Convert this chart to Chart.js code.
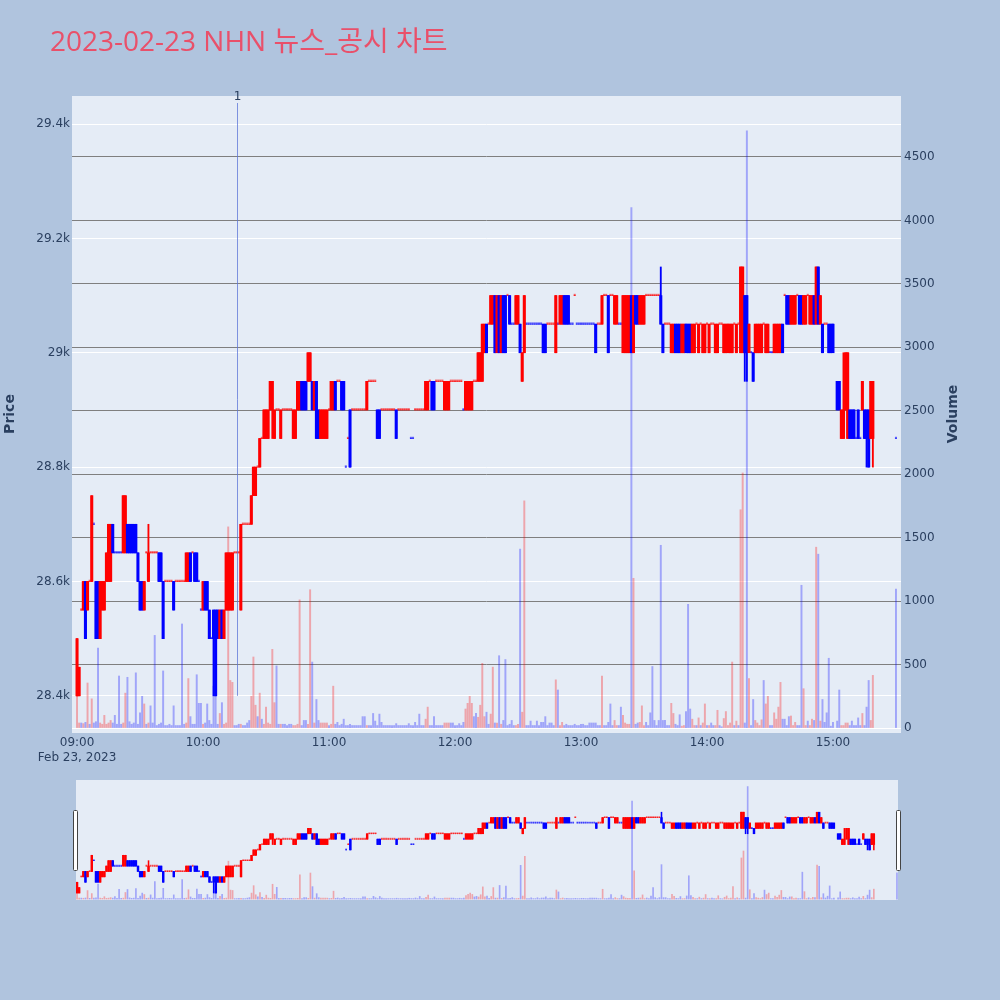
<!DOCTYPE html>
<html>
<head>
<meta charset="utf-8">
<script src="https://cdn.jsdelivr.net/npm/chart.js@4.4.1/dist/chart.umd.min.js"></script>
<style>
html, body { margin: 0; padding: 0; background: #b0c4de; }
#wrap { position: relative; width: 1000px; height: 1000px; }
#main { position: absolute; left: 0; top: 0; }
#slider { position: absolute; left: 0; top: 772px; }
</style>
</head>
<body>
<div id="wrap">
  <canvas id="main" width="1000" height="1000"></canvas>
  <canvas id="slider" width="1000" height="136"></canvas>
</div>
<script>
const chartTitle = '2023-02-23 NHN 뉴스_공시 차트';
const dateLabel = 'Feb 23, 2023';
const tickTimes = ['09:00', '10:00', '11:00', '12:00', '13:00', '14:00', '15:00'];
const priceTicks = [28400, 28600, 28800, 29000, 29200, 29400];
const volumeTicks = [0, 500, 1000, 1500, 2000, 2500, 3000, 3500, 4000, 4500];
const newsTimes = ['10:16'];
const newsLabels = ['1'];

const times = [
'09:00','09:01','09:02','09:03','09:04','09:05','09:06','09:07','09:08','09:09',
'09:10','09:11','09:12','09:13','09:14','09:15','09:16','09:17','09:18','09:19',
'09:20','09:21','09:22','09:23','09:24','09:25','09:26','09:27','09:28','09:29',
'09:30','09:31','09:32','09:33','09:34','09:35','09:36','09:37','09:38','09:39',
'09:40','09:41','09:42','09:43','09:44','09:45','09:46','09:47','09:48','09:49',
'09:50','09:51','09:52','09:53','09:54','09:55','09:56','09:57','09:58','09:59',
'10:00','10:01','10:02','10:03','10:04','10:05','10:06','10:07','10:08','10:09',
'10:10','10:11','10:12','10:13','10:14','10:15','10:16','10:17','10:18','10:19',
'10:20','10:21','10:22','10:23','10:24','10:25','10:26','10:27','10:28','10:29',
'10:30','10:31','10:32','10:33','10:34','10:35','10:36','10:37','10:38','10:39',
'10:40','10:41','10:42','10:43','10:44','10:45','10:46','10:47','10:48','10:49',
'10:50','10:51','10:52','10:53','10:54','10:55','10:56','10:57','10:58','10:59',
'11:00','11:01','11:02','11:03','11:04','11:05','11:06','11:07','11:08','11:09',
'11:10','11:11','11:12','11:13','11:14','11:15','11:16','11:17','11:18','11:19',
'11:20','11:21','11:22','11:23','11:24','11:25','11:26','11:27','11:28','11:29',
'11:30','11:31','11:32','11:33','11:34','11:35','11:36','11:37','11:38','11:39',
'11:40','11:41','11:42','11:43','11:44','11:45','11:46','11:47','11:48','11:49',
'11:50','11:51','11:52','11:53','11:54','11:55','11:56','11:57','11:58','11:59',
'12:00','12:01','12:02','12:03','12:04','12:05','12:06','12:07','12:08','12:09',
'12:10','12:11','12:12','12:13','12:14','12:15','12:16','12:17','12:18','12:19',
'12:20','12:21','12:22','12:23','12:24','12:25','12:26','12:27','12:28','12:29',
'12:30','12:31','12:32','12:33','12:34','12:35','12:36','12:37','12:38','12:39',
'12:40','12:41','12:42','12:43','12:44','12:45','12:46','12:47','12:48','12:49',
'12:50','12:51','12:52','12:53','12:54','12:55','12:56','12:57','12:58','12:59',
'13:00','13:01','13:02','13:03','13:04','13:05','13:06','13:07','13:08','13:09',
'13:10','13:11','13:12','13:13','13:14','13:15','13:16','13:17','13:18','13:19',
'13:20','13:21','13:22','13:23','13:24','13:25','13:26','13:27','13:28','13:29',
'13:30','13:31','13:32','13:33','13:34','13:35','13:36','13:37','13:38','13:39',
'13:40','13:41','13:42','13:43','13:44','13:45','13:46','13:47','13:48','13:49',
'13:50','13:51','13:52','13:53','13:54','13:55','13:56','13:57','13:58','13:59',
'14:00','14:01','14:02','14:03','14:04','14:05','14:06','14:07','14:08','14:09',
'14:10','14:11','14:12','14:13','14:14','14:15','14:16','14:17','14:18','14:19',
'14:20','14:21','14:22','14:23','14:24','14:25','14:26','14:27','14:28','14:29',
'14:30','14:31','14:32','14:33','14:34','14:35','14:36','14:37','14:38','14:39',
'14:40','14:41','14:42','14:43','14:44','14:45','14:46','14:47','14:48','14:49',
'14:50','14:51','14:52','14:53','14:54','14:55','14:56','14:57','14:58','14:59',
'15:00','15:02','15:03','15:04','15:05','15:06','15:07','15:08','15:09',
'15:10','15:11','15:12','15:13','15:14','15:15','15:16','15:17','15:18','15:19',
'15:30'
];

const opens = [
28400,28400,28550,28550,28600,28550,28600,28600,28700,28600,
28600,28500,28550,28550,28600,28600,28600,28700,28650,28650,
28650,28650,28650,28650,28700,28700,28700,28700,28700,28650,
28600,28600,28550,28650,28600,28650,28650,28650,28650,28650,
28650,28600,28600,28600,28600,28600,28600,28600,28600,28600,
28600,28600,28600,28600,28650,28650,28650,28650,28600,28550,
28550,28600,28600,28550,28500,28550,28550,28550,28500,28550,
28500,28550,28550,28550,28550,28650,28650,28650,28550,28700,
28700,28700,28700,28700,28750,28750,28800,28800,28850,28850,
28850,28850,28900,28900,28850,28900,28900,28850,28900,28900,
28900,28900,28900,28850,28850,28900,28900,28950,28950,28950,
28950,28950,28950,28900,28950,28900,28850,28850,28850,28850,
28900,28900,28900,28950,28950,28950,28950,28950,28800,28850,
28900,28900,28900,28900,28900,28900,28900,28900,28900,28950,
28950,28950,28950,28900,28900,28900,28900,28900,28900,28900,
28900,28900,28900,28900,28900,28900,28900,28900,28900,28850,
28850,28900,28900,28900,28900,28900,28900,28900,28950,28950,
28950,28950,28950,28950,28950,28900,28900,28900,28950,28950,
28950,28950,28950,28950,28900,28900,28900,28900,28900,28950,
28950,28950,28950,28950,29000,29050,29050,29050,29050,29100,
29000,29100,29000,29100,29100,29100,29100,29050,29050,29050,
29050,29050,28950,29000,29050,29050,29050,29050,29050,29050,
29050,29050,29050,29050,29050,29050,29050,29050,29000,29050,
29050,29050,29100,29100,29100,29050,29050,29100,29050,29050,
29050,29050,29050,29050,29050,29050,29050,29050,29050,29050,
29050,29100,29100,29100,29100,29100,29050,29050,29050,29050,
29000,29000,29000,29000,29100,29000,29100,29100,29050,29050,
29050,29100,29100,29100,29100,29100,29100,29100,29100,29050,
29050,29050,29050,29000,29000,29050,29050,29050,29000,29000,
29050,29050,29050,29000,29000,29050,29000,29050,29000,29000,
29050,29000,29050,29050,29000,29000,29050,29050,29000,29000,
29000,29000,29000,29050,29000,29050,29000,29000,29100,29100,
29000,29000,29000,29000,29000,29000,29000,29050,29000,29000,
29000,29000,29000,29000,29000,29000,29050,29100,29100,29100,
29050,29050,29050,29100,29100,29100,29050,29050,29100,29050,
29050,29100,29050,29150,29050,29050,29050,29050,29050,29050,29050,
28950,28950,28850,28850,28900,28850,28900,28900,
28900,28850,28900,28850,28900,28900,28900,28900,28850,28850,
28850
];

const highs = [
28500,28450,28550,28600,28600,28600,28600,28750,28700,28600,
28600,28600,28600,28600,28650,28700,28700,28700,28650,28650,
28650,28650,28750,28750,28700,28700,28700,28700,28700,28650,
28600,28600,28600,28650,28700,28650,28650,28650,28650,28650,
28650,28600,28600,28600,28600,28600,28600,28600,28600,28600,
28600,28600,28650,28650,28650,28650,28650,28650,28600,28550,
28600,28600,28600,28550,28500,28550,28550,28550,28550,28550,
28550,28650,28650,28650,28650,28650,28650,28650,28700,28700,
28700,28700,28700,28750,28800,28800,28800,28850,28850,28900,
28900,28900,28950,28950,28900,28900,28900,28900,28900,28900,
28900,28900,28900,28900,28900,28950,28950,28950,28950,28950,
29000,29000,28950,28950,28950,28900,28900,28900,28900,28900,
28900,28950,28950,28950,28950,28950,28950,28950,28800,28850,
28900,28900,28900,28900,28900,28900,28900,28900,28950,28950,
28950,28950,28950,28900,28900,28900,28900,28900,28900,28900,
28900,28900,28900,28900,28900,28900,28900,28900,28900,28850,
28850,28900,28900,28900,28900,28900,28950,28950,28950,28950,
28950,28950,28950,28950,28950,28950,28950,28950,28950,28950,
28950,28950,28950,28950,28900,28950,28950,28950,28950,28950,
28950,29000,29000,29050,29050,29050,29050,29100,29100,29100,
29100,29100,29100,29100,29100,29100,29100,29050,29050,29100,
29100,29050,29000,29100,29050,29050,29050,29050,29050,29050,
29050,29050,29050,29050,29050,29050,29050,29050,29100,29050,
29100,29100,29100,29100,29100,29050,29050,29100,29050,29050,
29050,29050,29050,29050,29050,29050,29050,29050,29050,29050,
29100,29100,29100,29100,29100,29100,29100,29100,29050,29050,
29100,29100,29100,29100,29100,29100,29100,29100,29100,29100,
29100,29100,29100,29100,29100,29100,29100,29100,29150,29050,
29050,29050,29050,29050,29050,29050,29050,29050,29050,29050,
29050,29050,29050,29050,29050,29050,29050,29050,29050,29050,
29050,29050,29050,29050,29050,29050,29050,29050,29050,29050,
29050,29050,29050,29050,29050,29050,29150,29150,29100,29100,
29050,29000,29000,29050,29050,29050,29050,29050,29050,29050,
29000,29000,29050,29050,29050,29050,29050,29100,29100,29100,
29100,29100,29100,29100,29100,29100,29100,29100,29100,29100,
29100,29100,29150,29150,29100,29050,29050,29050,29050,29050,29050,
28950,28950,28900,29000,29000,29000,28900,28900,
28900,28850,28900,28850,28950,28900,28900,28900,28950,28950,
28850
];

const lows = [
28400,28400,28550,28550,28500,28550,28600,28600,28700,28500,
28500,28500,28550,28550,28600,28600,28600,28650,28650,28650,
28650,28650,28650,28650,28650,28650,28650,28650,28650,28600,
28550,28550,28550,28650,28600,28650,28650,28650,28650,28600,
28600,28500,28600,28600,28600,28600,28550,28600,28600,28600,
28600,28600,28600,28600,28600,28650,28600,28600,28600,28550,
28550,28550,28550,28500,28500,28400,28400,28500,28500,28500,
28500,28550,28550,28550,28550,28650,28650,28650,28550,28700,
28700,28700,28700,28700,28750,28750,28800,28800,28850,28850,
28850,28850,28900,28850,28850,28900,28900,28850,28900,28900,
28900,28900,28900,28850,28850,28900,28900,28900,28900,28900,
28950,28950,28900,28900,28850,28850,28850,28850,28850,28850,
28900,28900,28900,28900,28950,28950,28900,28900,28800,28850,
28800,28900,28900,28900,28900,28900,28900,28900,28900,28950,
28950,28950,28950,28850,28850,28900,28900,28900,28900,28900,
28900,28900,28850,28900,28900,28900,28900,28900,28900,28850,
28850,28900,28900,28900,28900,28900,28900,28900,28950,28900,
28900,28950,28950,28950,28950,28900,28900,28900,28950,28950,
28950,28950,28950,28950,28900,28900,28900,28900,28900,28950,
28950,28950,28950,28950,29000,29000,29050,29050,29050,29000,
29000,29000,29000,29000,29000,29100,29050,29050,29050,29050,
29050,29000,28950,29000,29050,29050,29050,29050,29050,29050,
29050,29050,29000,29000,29050,29050,29050,29050,29000,29050,
29050,29050,29050,29050,29050,29050,29050,29100,29050,29050,
29050,29050,29050,29050,29050,29050,29050,29000,29050,29050,
29050,29100,29100,29000,29100,29100,29050,29050,29050,29050,
29000,29000,29000,29000,29000,29000,29050,29050,29050,29050,
29050,29100,29100,29100,29100,29100,29100,29100,29050,29000,
29050,29050,29050,29000,29000,29000,29000,29000,29000,29000,
29000,29000,29000,29000,29000,29050,29000,29050,29000,29000,
29050,29000,29050,29050,29000,29000,29050,29050,29000,29000,
29000,29000,29000,29050,29000,29050,29000,29000,28950,28950,
29000,29000,28950,29000,29000,29000,29000,29050,29000,29000,
29000,29000,29000,29000,29000,29000,29000,29100,29050,29050,
29050,29050,29050,29100,29050,29050,29050,29050,29100,29050,
29050,29050,29050,29050,29050,29000,29050,29050,29000,29000,29000,
28900,28900,28850,28850,28900,28850,28850,28850,
28850,28850,28850,28850,28900,28850,28800,28800,28850,28800,
28850
];

const closes = [
28500,28450,28550,28600,28500,28600,28600,28750,28700,28500,
28500,28600,28600,28600,28650,28700,28700,28650,28650,28650,
28650,28650,28750,28750,28650,28650,28650,28650,28650,28600,
28550,28550,28600,28650,28650,28650,28650,28650,28650,28600,
28600,28500,28600,28600,28600,28600,28550,28600,28600,28600,
28600,28600,28650,28650,28600,28650,28600,28600,28600,28550,
28600,28550,28550,28500,28500,28500,28400,28500,28550,28500,
28550,28650,28650,28650,28650,28650,28650,28650,28700,28700,
28700,28700,28700,28750,28800,28800,28800,28850,28850,28900,
28900,28900,28950,28950,28900,28900,28900,28900,28900,28900,
28900,28900,28900,28900,28900,28950,28950,28900,28900,28900,
29000,29000,28900,28950,28850,28850,28900,28900,28900,28900,
28900,28950,28950,28900,28950,28950,28900,28900,28800,28850,
28800,28900,28900,28900,28900,28900,28900,28900,28950,28950,
28950,28950,28950,28850,28850,28900,28900,28900,28900,28900,
28900,28900,28850,28900,28900,28900,28900,28900,28900,28850,
28850,28900,28900,28900,28900,28900,28950,28950,28950,28900,
28900,28950,28950,28950,28950,28950,28950,28950,28950,28950,
28950,28950,28950,28950,28900,28950,28950,28950,28950,28950,
28950,29000,29000,29050,29050,29000,29050,29100,29100,29000,
29100,29000,29100,29000,29000,29100,29050,29050,29050,29100,
29100,29000,29000,29100,29050,29050,29050,29050,29050,29050,
29050,29050,29000,29000,29050,29050,29050,29050,29100,29050,
29100,29100,29050,29050,29050,29050,29050,29100,29050,29050,
29050,29050,29050,29050,29050,29050,29050,29000,29050,29050,
29100,29100,29100,29000,29100,29100,29100,29100,29050,29050,
29100,29100,29100,29100,29000,29100,29050,29050,29100,29100,
29100,29100,29100,29100,29100,29100,29100,29100,29050,29000,
29050,29050,29050,29050,29050,29000,29000,29000,29050,29050,
29000,29000,29000,29050,29050,29050,29050,29050,29050,29050,
29050,29050,29050,29050,29050,29050,29050,29050,29050,29050,
29050,29050,29050,29050,29050,29050,29150,29150,29000,29000,
29050,29000,28950,29050,29050,29050,29050,29050,29050,29050,
29000,29000,29050,29050,29050,29050,29000,29100,29050,29050,
29100,29100,29100,29100,29050,29050,29100,29100,29100,29100,
29100,29050,29150,29050,29100,29000,29050,29050,29000,29000,29000,
28900,28900,28900,28900,29000,29000,28850,28850,
28850,28850,28850,28850,28950,28850,28850,28800,28950,28950,
28850
];

const volumes = [
470,40,40,35,45,355,30,230,40,50,
630,40,30,100,30,40,60,40,100,30,
410,30,40,275,400,50,30,40,435,30,
120,250,190,30,40,175,40,730,20,30,
40,450,20,20,30,20,175,20,20,20,
820,30,40,390,90,30,30,420,195,195,
30,40,190,60,30,330,250,30,115,200,
30,40,1585,375,360,20,20,30,30,20,
20,40,60,250,560,180,90,275,70,30,
165,40,30,620,200,490,30,30,30,30,
20,30,30,20,20,30,1010,20,60,60,
30,1090,520,40,225,60,40,40,40,40,
20,30,330,30,45,20,30,70,20,20,
30,20,20,20,20,20,90,90,20,20,
20,115,55,20,110,45,20,20,20,20,
20,20,35,20,20,20,20,20,35,20,
20,45,20,110,20,20,70,165,20,20,
90,20,20,20,20,40,40,40,40,40,
20,20,35,20,45,150,195,250,195,90,
115,85,180,510,90,125,30,110,480,40,
40,570,30,60,540,20,30,60,20,20,
30,1410,125,1790,20,20,55,20,20,55,
20,45,45,90,20,40,40,20,380,300,
20,45,20,30,20,20,20,30,20,20,
30,30,20,20,40,40,40,40,20,20,
410,20,20,45,190,20,60,20,20,165,
100,40,30,30,4100,1180,30,40,45,175,
20,45,20,120,485,60,20,60,1440,60,
60,20,20,195,115,30,20,105,15,20,
130,975,150,70,20,20,80,20,40,190,
20,20,40,20,20,140,20,10,75,130,
20,40,520,20,55,20,1720,2010,40,4705,
390,20,225,60,40,20,65,375,190,250,
20,20,120,70,165,360,70,70,20,90,
95,20,45,20,20,1125,310,20,55,20,
70,60,1425,1370,55,225,45,120,550,15,45,
55,300,20,20,40,40,20,55,
20,20,80,20,115,20,165,375,60,415,
1095
];

const UP = '#ff0000';
const DOWN = '#0000ff';
const UP_FLAT = 'rgba(255, 0, 0, 0.6)';
const DOWN_FLAT = 'rgba(0, 0, 255, 0.6)';
const UP_VOL = 'rgba(255, 0, 0, 0.3)';
const DOWN_VOL = 'rgba(0, 0, 255, 0.3)';
const FONT = '"DejaVu Sans", Verdana, sans-serif';
const TITLE_FONT = '"Open Sans", "Noto Sans CJK KR", sans-serif';
const TEXT = '#2a3f5f';

function toMin(t) {
    const parts = t.split(':').map(Number);
    return (parts[0] - 9) * 60 + parts[1];
}

const xs = times.map(toMin);

// candle colour: flat candles follow the previous close
const dirs = [];
for (let i = 0; i < closes.length; i++) {
    let d;
    if (closes[i] > opens[i]) d = 1;
    else if (closes[i] < opens[i]) d = -1;
    else if (i > 0 && closes[i] > closes[i - 1]) d = 1;
    else if (i > 0 && closes[i] < closes[i - 1]) d = -1;
    else d = i > 0 ? dirs[i - 1] : 1;
    dirs.push(d);
}
const isFlat = opens.map((o, i) => o === closes[i]);
const bodyIdx = xs.map((x, i) => i).filter(i => !isFlat[i]);
const flatIdx = xs.map((x, i) => i).filter(i => isFlat[i]);

function makeDatasets(w) {
    return [
        {
            label: 'Volume', yAxisID: 'yv', order: 0, grouped: false,
            barThickness: w.vol,
            data: xs.map((x, i) => ({x: x, y: volumes[i]})),
            // red only when the minute closed above its open
            backgroundColor: closes.map((c, i) => c > opens[i] ? UP_VOL : DOWN_VOL)
        },
        {
            label: 'Body', yAxisID: 'y', order: 1, grouped: false,
            barThickness: w.body,
            data: bodyIdx.map(i => ({x: xs[i], y: [opens[i], closes[i]]})),
            backgroundColor: bodyIdx.map(i => dirs[i] > 0 ? UP : DOWN)
        },
        {
            label: 'Flat', yAxisID: 'y', order: 2, grouped: false,
            barThickness: w.flat, minBarLength: w.minLen,
            data: flatIdx.map(i => ({x: xs[i], y: [opens[i], closes[i]]})),
            backgroundColor: flatIdx.map(i => dirs[i] > 0 ? UP_FLAT : DOWN_FLAT)
        },
        {
            label: 'Wick', yAxisID: 'y', order: 3, grouped: false,
            barThickness: w.wick,
            data: xs.map((x, i) => ({x: x, y: [lows[i], highs[i]]})),
            backgroundColor: dirs.map(d => d > 0 ? UP : DOWN)
        }
    ];
}

const plotBg = {
    id: 'plotBg',
    beforeDraw(chart) {
        const a = chart.chartArea;
        const ctx = chart.ctx;
        ctx.save();
        ctx.fillStyle = '#e5ecf6';
        ctx.fillRect(a.left, a.top, a.right - a.left, a.bottom - a.top);
        ctx.restore();
    }
};

function rotatedText(ctx, text, x, y) {
    ctx.save();
    ctx.fillStyle = TEXT;
    ctx.font = 'bold 14px ' + FONT;
    ctx.textAlign = 'center';
    ctx.textBaseline = 'middle';
    ctx.translate(x, y);
    ctx.rotate(-Math.PI / 2);
    ctx.fillText(text, 0, 0);
    ctx.restore();
}

const decor = {
    id: 'decor',
    afterDatasetsDraw(chart) {
        const ctx = chart.ctx;
        const xScale = chart.scales.x;
        const yScale = chart.scales.y;
        const a = chart.chartArea;
        const lowest = Math.min(...lows);
        newsTimes.forEach((t, i) => {
            const px = Math.round(xScale.getPixelForValue(toMin(t))) + 0.5;
            ctx.save();
            ctx.strokeStyle = 'rgba(90, 115, 215, 0.75)';
            ctx.lineWidth = 1;
            ctx.beginPath();
            ctx.moveTo(px, a.top + 7);
            ctx.lineTo(px, yScale.getPixelForValue(lowest));
            ctx.stroke();
            ctx.fillStyle = TEXT;
            ctx.font = '12px ' + FONT;
            ctx.textAlign = 'center';
            ctx.textBaseline = 'middle';
            ctx.fillText(newsLabels[i], px, a.top + 1);
            ctx.restore();
        });
    },
    afterDraw(chart) {
        const ctx = chart.ctx;
        ctx.save();
        ctx.fillStyle = '#e9506a';
        ctx.font = '28px ' + TITLE_FONT;
        ctx.textAlign = 'left';
        ctx.textBaseline = 'alphabetic';
        ctx.fillText(chartTitle, 50, 51);
        ctx.restore();
        rotatedText(ctx, 'Price', 10, 414);
        rotatedText(ctx, 'Volume', 953, 414);
    }
};

new Chart(document.getElementById('main'), {
    type: 'bar',
    data: { datasets: makeDatasets({vol: 1.3, body: 2.4, flat: 1.4, minLen: 1.4, wick: 1.2}) },
    options: {
        responsive: false,
        animation: false,
        events: [],
        layout: { padding: { top: 96, left: 0, right: 0, bottom: 0 } },
        plugins: { legend: { display: false }, tooltip: { enabled: false } },
        scales: {
            x: {
                type: 'linear', min: -2.4, max: 392.4, offset: false,
                grid: { display: false, drawTicks: false },
                border: { display: false },
                afterBuildTicks: s => { s.ticks = tickTimes.map(t => ({value: toMin(t)})); },
                afterFit: s => { s.height = 267; },
                ticks: {
                    autoSkip: false, maxRotation: 0, padding: 3, color: TEXT,
                    font: { family: FONT, size: 12 },
                    callback: (v, i) => i === 0 ? [tickTimes[0], dateLabel] : tickTimes[i]
                }
            },
            y: {
                position: 'left', min: 28335, max: 29449,
                grid: { color: '#ffffff', lineWidth: 1, drawTicks: false },
                border: { display: false },
                afterBuildTicks: s => { s.ticks = priceTicks.map(v => ({value: v})); },
                afterFit: s => { s.width = 72; },
                ticks: {
                    padding: 2, color: TEXT, font: { family: FONT, size: 12 },
                    callback: v => (v / 1000) + 'k'
                }
            },
            yv: {
                position: 'right', min: -39, max: 4980,
                grid: {
                    color: c => c.tick.value === 0 ? '#ffffff' : '#7f7f7f',
                    lineWidth: 1, drawTicks: false
                },
                border: { display: false },
                afterBuildTicks: s => { s.ticks = volumeTicks.map(v => ({value: v})); },
                afterFit: s => { s.width = 99; },
                ticks: {
                    padding: 3, color: TEXT, font: { family: FONT, size: 12 },
                    callback: v => String(v)
                }
            }
        }
    },
    plugins: [plotBg, decor]
});

const grabbers = {
    id: 'grabbers',
    afterDraw(chart) {
        const ctx = chart.ctx;
        const a = chart.chartArea;
        ctx.save();
        ctx.fillStyle = '#ffffff';
        ctx.strokeStyle = '#444444';
        ctx.lineWidth = 1;
        [a.left - 3, a.right - 2].forEach(x0 => {
            ctx.beginPath();
            ctx.roundRect(Math.round(x0) + 0.5, 38.5, 4, 60, 1);
            ctx.fill();
            ctx.stroke();
        });
        ctx.restore();
    }
};

new Chart(document.getElementById('slider'), {
    type: 'bar',
    data: { datasets: makeDatasets({vol: 1, body: 1.8, flat: 1.1, minLen: 1, wick: 0.9}) },
    options: {
        responsive: false,
        animation: false,
        events: [],
        layout: { padding: { top: 8, left: 76, right: 102, bottom: 8 } },
        plugins: { legend: { display: false }, tooltip: { enabled: false } },
        scales: {
            x: { type: 'linear', display: false, min: -0.5, max: 390.5, offset: false },
            y: { display: false, min: 28335, max: 29449 },
            yv: { display: false, position: 'right', min: -39, max: 4980 }
        }
    },
    plugins: [plotBg, grabbers]
});
</script>
</body>
</html>
